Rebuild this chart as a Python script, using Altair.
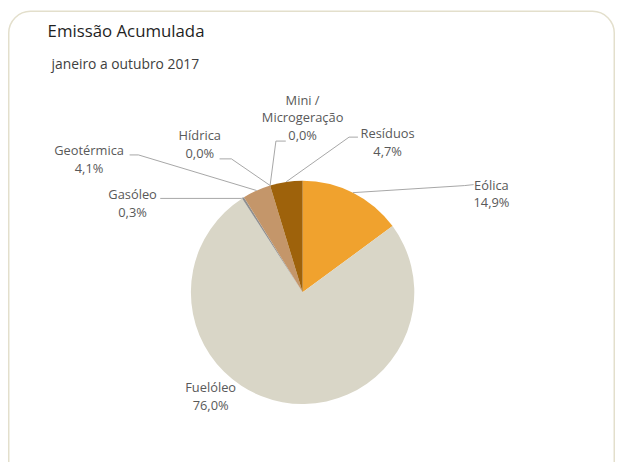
import altair as alt
import pandas as pd
import numpy as np

# ---- data ----
categories = ["Eólica", "Fuelóleo", "Gasóleo", "Geotérmica", "Hídrica",
              "Mini / Microgeração", "Resíduos"]
values = [14.9, 76.0, 0.3, 4.1, 0.0, 0.0, 4.7]
name_lines = [["Eólica"], ["Fuelóleo"], ["Gasóleo"], ["Geotérmica"], ["Hídrica"],
              ["Mini /", "Microgeração"], ["Resíduos"]]
title_text = "Emissão Acumulada"
subtitle_text = "janeiro a outubro 2017"

# ---- style / layout ----
colors = ["#F0A22E", "#D9D6C7", "#8F8F8F", "#C4966A", "#5B9BD5", "#A5A5A5", "#9E620B"]
W, H = 614, 454
CX, CY, R = 298, 285, 113
LINE_GAP = 18
label_anchor = [(489, 177), (205, 382), (126, 187), (82, 142), (194, 127), (298, 91), (384, 125)]
leader_pts = [
    [(462, 177), (471, 176)],
    [],
    [(236, 190), (154, 190)],
    [(132, 146), (123, 146)],
    [(226, 150), (214, 150)],
    [(271, 132), (281, 132)],
    [(345, 128), (354, 128)],
]
FONT = "Open Sans"

pie_df = pd.DataFrame({"cat": categories, "val": values, "idx": range(len(values))})

# labels
rows = []
for i, cat in enumerate(categories):
    lines = name_lines[i] + [f"{values[i]:.1f}".replace(".", ",") + "%"]
    ax, ay = label_anchor[i]
    for j, t in enumerate(lines):
        rows.append({"t": t, "x": ax, "y": ay + j * LINE_GAP})
lab_df = pd.DataFrame(rows)

# leaders: start at pie edge at slice mid-angle
lrows = []
cum = np.cumsum([0] + values[:-1])
tot = sum(values)
for i, cat in enumerate(categories):
    if not leader_pts[i]:
        continue
    a = (cum[i] + values[i] / 2) / tot * 2 * np.pi
    ex, ey = CX + R * np.sin(a), CY - R * np.cos(a)
    pts = [(ex, ey)] + leader_pts[i]
    for k, (px, py) in enumerate(pts):
        lrows.append({"cat": cat, "k": k, "x": px, "y": py})
lead_df = pd.DataFrame(lrows)

frame = alt.Chart(pd.DataFrame({"a": [0]})).mark_rect(
    fill="white", stroke="#E3DFCC", strokeWidth=1.5, cornerRadius=22
).encode(x=alt.value(0.75), x2=alt.value(W - 0.75), y=alt.value(0.75), y2=alt.value(H + 40))

pie = alt.Chart(pie_df).mark_arc(outerRadius=R).encode(
    theta=alt.Theta("val:Q", stack=True),
    order=alt.Order("idx:Q", sort="ascending"),
    color=alt.Color("cat:N", scale=alt.Scale(domain=categories, range=colors), legend=None),
    x=alt.value(CX), y=alt.value(CY),
)

leaders = alt.Chart(lead_df).mark_line(color="#A6A6A6", strokeWidth=1).encode(
    x=alt.X("x:Q", scale=None), y=alt.Y("y:Q", scale=None),
    detail="cat:N", order="k:Q",
)

labels = alt.Chart(lab_df).mark_text(
    font=FONT, fontSize=13, color="#595959", align="center", baseline="middle"
).encode(x=alt.X("x:Q", scale=None), y=alt.Y("y:Q", scale=None), text="t:N")

ttl = alt.Chart(pd.DataFrame({"t": [title_text]})).mark_text(
    font=FONT, fontSize=17, color="#1F1F1F", align="left", baseline="middle"
).encode(x=alt.value(40), y=alt.value(22), text="t:N")

sub = alt.Chart(pd.DataFrame({"t": [subtitle_text]})).mark_text(
    font=FONT, fontSize=14, color="#404040", align="left", baseline="middle"
).encode(x=alt.value(44), y=alt.value(55), text="t:N")

chart = alt.layer(frame, pie, leaders, labels, ttl, sub).properties(
    width=W, height=H, padding=0, autosize=alt.AutoSizeParams(type="none")
).configure_view(strokeWidth=0)

chart.save("out.html", embed_options={"renderer": "svg", "actions": False})
